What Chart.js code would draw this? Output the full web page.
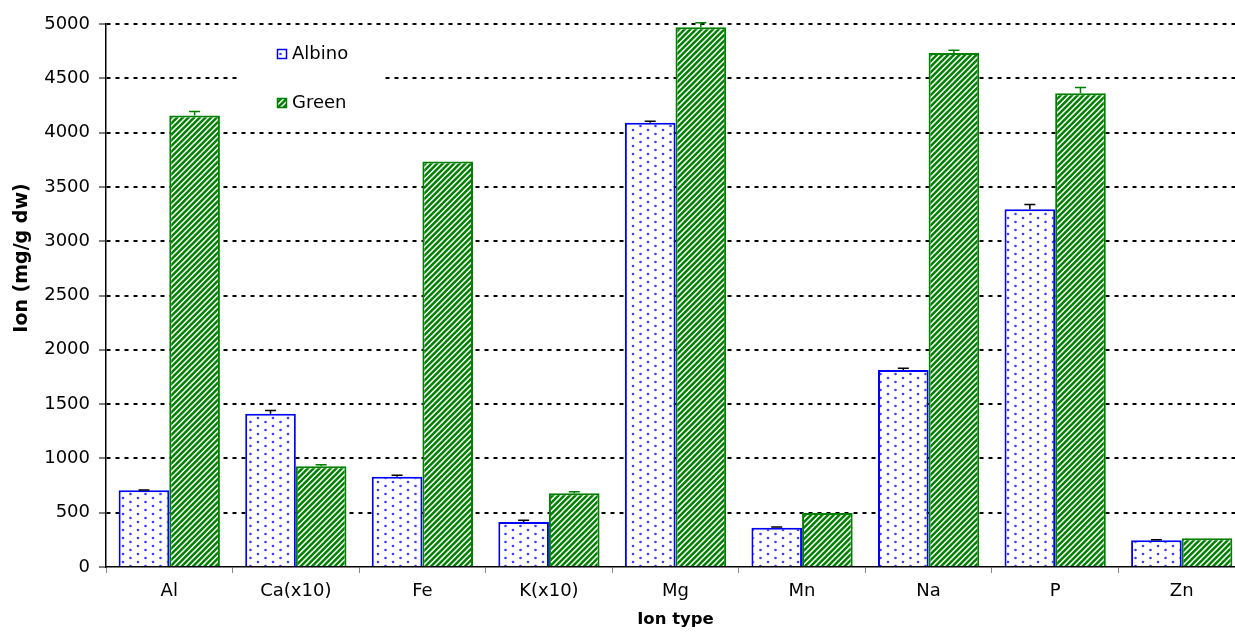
<!DOCTYPE html>
<html>
<head>
<meta charset="utf-8">
<title>Ion content</title>
<script src="https://cdn.jsdelivr.net/npm/chart.js@4/dist/chart.umd.min.js"></script>
<style>
  html, body { margin: 0; padding: 0; background: #fff; overflow: hidden; }
  #wrap { width: 1250px; height: 632px; position: relative; }
</style>
</head>
<body>
<div id="wrap"><canvas id="chart"></canvas></div>
<script>
// Ion concentrations per tissue type (mg/g dw); Ca and K scaled x10
const categories = ['Al', 'Ca(x10)', 'Fe', 'K(x10)', 'Mg', 'Mn', 'Na', 'P', 'Zn'];
const albino     = [706, 1412, 832, 414, 4090, 362, 1815, 3295, 246];
const green      = [4157, 927, 3735, 679, 4971, 497, 4732, 4363, 264];
const albinoErr  = [3, 28, 13, 16, 15, 6, 15, 42, 6];
const greenErr   = [37, 15, 0, 15, 40, 0, 27, 52, 0];
const yTicks     = [0, 500, 1000, 1500, 2000, 2500, 3000, 3500, 4000, 4500, 5000];
const seriesNames = ['Albino', 'Green'];
const xTitle = 'Ion type';
const yTitle = 'Ion (mg/g dw)';

const FONT = '"DejaVu Sans", Verdana, sans-serif';
const BLUE = '#0000ff';
const GREEN = 'rgb(0,128,0)';

// Dotted fill for the Albino bars
function dotPattern() {
  const c = document.createElement('canvas');
  c.width = 15; c.height = 8;
  const g = c.getContext('2d');
  g.fillStyle = '#fff';
  g.fillRect(0, 0, c.width, c.height);
  g.fillStyle = 'rgb(60,60,255)';
  [[3, 2], [10.5, 6]].forEach(([x, y]) => {
    g.beginPath(); g.arc(x, y, 1.3, 0, Math.PI * 2); g.fill();
  });
  return g.createPattern(c, 'repeat');
}

// Diagonal hatch for the Green bars
function stripePattern() {
  const s = 17, step = s / 3;
  const c = document.createElement('canvas');
  c.width = s; c.height = s;
  const g = c.getContext('2d');
  g.fillStyle = '#fff';
  g.fillRect(0, 0, s, s);
  g.strokeStyle = GREEN;
  g.lineWidth = 2.5;
  for (let k = -2; k <= 8; k++) {
    const cc = k * step;
    g.beginPath(); g.moveTo(cc + 4, -4); g.lineTo(cc - s - 4, s + 4); g.stroke();
  }
  return g.createPattern(c, 'repeat');
}

const albinoFill = dotPattern();
const greenFill = stripePattern();

// Upper error bars for each bar
const errorBars = {
  id: 'errorBars',
  afterDatasetsDraw(chart) {
    const ctx = chart.ctx;
    const yScale = chart.scales.y;
    const errs = [albinoErr, greenErr];
    const cols = ['#000', GREEN];
    chart.data.datasets.forEach((ds, i) => {
      const meta = chart.getDatasetMeta(i);
      meta.data.forEach((bar, j) => {
        const e = errs[i][j];
        if (!e) return;
        const yTop = yScale.getPixelForValue(ds.data[j] + e);
        ctx.save();
        ctx.strokeStyle = cols[i];
        ctx.lineWidth = 1.5;
        ctx.beginPath();
        ctx.moveTo(bar.x, bar.y);
        ctx.lineTo(bar.x, yTop);
        ctx.moveTo(bar.x - 5.5, yTop);
        ctx.lineTo(bar.x + 5.5, yTop);
        ctx.stroke();
        ctx.restore();
      });
    });
  }
};

// Vertical axis title, set a little above the middle of the axis
const yAxisTitle = {
  id: 'yAxisTitle',
  afterDraw(chart) {
    const ctx = chart.ctx;
    ctx.save();
    ctx.translate(22, 258);
    ctx.rotate(-Math.PI / 2);
    ctx.fillStyle = '#000';
    ctx.font = 'bold 19px ' + FONT;
    ctx.textAlign = 'center';
    ctx.textBaseline = 'middle';
    ctx.fillText(yTitle, 0, 0);
    ctx.restore();
  }
};

// Legend box drawn inside the plot area
const insideLegend = {
  id: 'insideLegend',
  afterDraw(chart) {
    const ctx = chart.ctx;
    ctx.save();
    ctx.fillStyle = '#fff';
    ctx.fillRect(238, 37, 147, 94);
    const items = [
      { label: seriesNames[0], fill: albinoFill, stroke: BLUE, y: 54 },
      { label: seriesNames[1], fill: greenFill, stroke: GREEN, y: 103 }
    ];
    items.forEach(it => {
      ctx.fillStyle = it.fill;
      ctx.fillRect(277, it.y - 5, 10, 10);
      ctx.strokeStyle = it.stroke;
      ctx.lineWidth = 1.5;
      ctx.strokeRect(277.5, it.y - 4.5, 9, 9);
      ctx.fillStyle = '#000';
      ctx.font = '18px ' + FONT;
      ctx.textBaseline = 'middle';
      ctx.textAlign = 'left';
      ctx.fillText(it.label, 292, it.y);
    });
    ctx.restore();
  }
};

new Chart(document.getElementById('chart'), {
  type: 'bar',
  data: {
    labels: categories,
    datasets: [
      { label: seriesNames[0], data: albino, backgroundColor: albinoFill,
        borderColor: BLUE, borderWidth: 2, categoryPercentage: 0.8, barPercentage: 1.0 },
      { label: seriesNames[1], data: green, backgroundColor: greenFill,
        borderColor: GREEN, borderWidth: 2, categoryPercentage: 0.8, barPercentage: 1.0 }
    ]
  },
  options: {
    responsive: true,
    maintainAspectRatio: false,
    animation: false,
    layout: { padding: { top: 24, right: 5, left: 0, bottom: 0 } },
    plugins: {
      legend: { display: false },
      tooltip: { enabled: false }
    },
    scales: {
      x: {
        offset: true,
        afterFit(scale) { scale.height = 65; },
        grid: { display: true, drawOnChartArea: false, drawTicks: true, tickLength: 6,
                tickColor: '#888', tickWidth: 1, offset: true },
        border: { display: true, color: '#000', width: 1.5 },
        ticks: { color: '#000', font: { family: FONT, size: 18 }, padding: 8 },
        title: { display: true, text: xTitle, color: '#000',
                 font: { family: FONT, size: 16.5, weight: 'bold' }, padding: { top: 0, bottom: 2 } }
      },
      y: {
        min: 0, max: 5000,
        afterFit(scale) { scale.width = 106; },
        afterBuildTicks(scale) { scale.ticks = yTicks.map(v => ({ value: v })); },
        grid: {
          color: ctx => (ctx.tick && ctx.tick.value === 0) ? 'rgba(0,0,0,0)' : '#000',
          lineWidth: 2, tickColor: '#000', tickWidth: 1, tickLength: 7,
          tickBorderDash: []
        },
        border: { display: true, color: '#000', width: 1.5, dash: [4, 5] },
        ticks: { color: '#000', font: { family: FONT, size: 18 }, padding: 9,
                 callback: v => String(v) },
        title: { display: false }
      }
    }
  },
  plugins: [errorBars, yAxisTitle, insideLegend]
});
</script>
</body>
</html>
